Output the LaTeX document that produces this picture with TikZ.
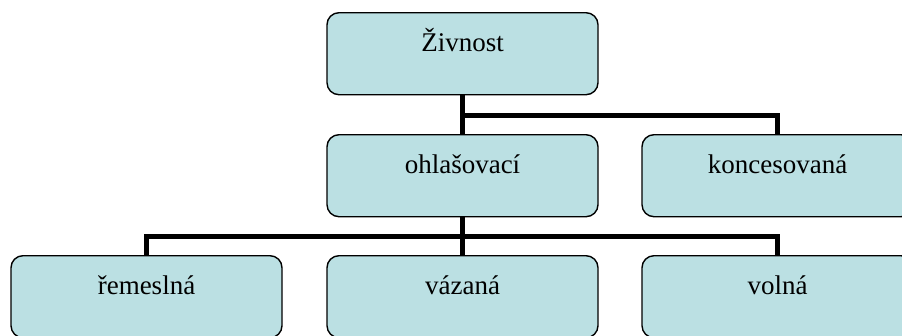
\documentclass[tikz,border=0pt]{standalone}
\usepackage{fontspec}
\setmainfont{Liberation Serif}
\definecolor{boxfill}{HTML}{BBE0E3}
\tikzset{
  orgbox/.style={draw=black, line width=1.4pt, fill=boxfill, rounded corners=12pt,
    rectangle, inner sep=0pt, minimum width=271pt, text height=39pt, text depth=43pt,
    font=\fontsize{27}{32}\selectfont, anchor=north},
  link/.style={draw=black, line width=5pt}
}
\begin{document}
\begin{tikzpicture}[x=1pt,y=-1pt]
  \useasboundingbox (0,0) rectangle (902,335);
  % tree of trade types
  \node[orgbox] (zivnost) at (462.5,12) {Živnost};
  \node[orgbox] (ohl) at (462.5,134) {ohlašovací};
  \node[orgbox] (konc) at (777.5,134) {koncesovaná};
  \node[orgbox] (rem) at (146.5,255) {řemeslná};
  \node[orgbox] (vaz) at (462.5,255) {vázaná};
  \node[orgbox] (vol) at (777.5,255) {volná};
  \coordinate (j1) at (462.5,115.5);
  \coordinate (j2) at (462.5,236);
  % connectors
  \draw[link] (zivnost.south) -- (ohl.north);
  \draw[link] (j1) -| (konc.north);
  \draw[link] (ohl.south) -- (vaz.north);
  \draw[link] (rem.north) |- (j2) -| (vol.north);
\end{tikzpicture}
\end{document}
